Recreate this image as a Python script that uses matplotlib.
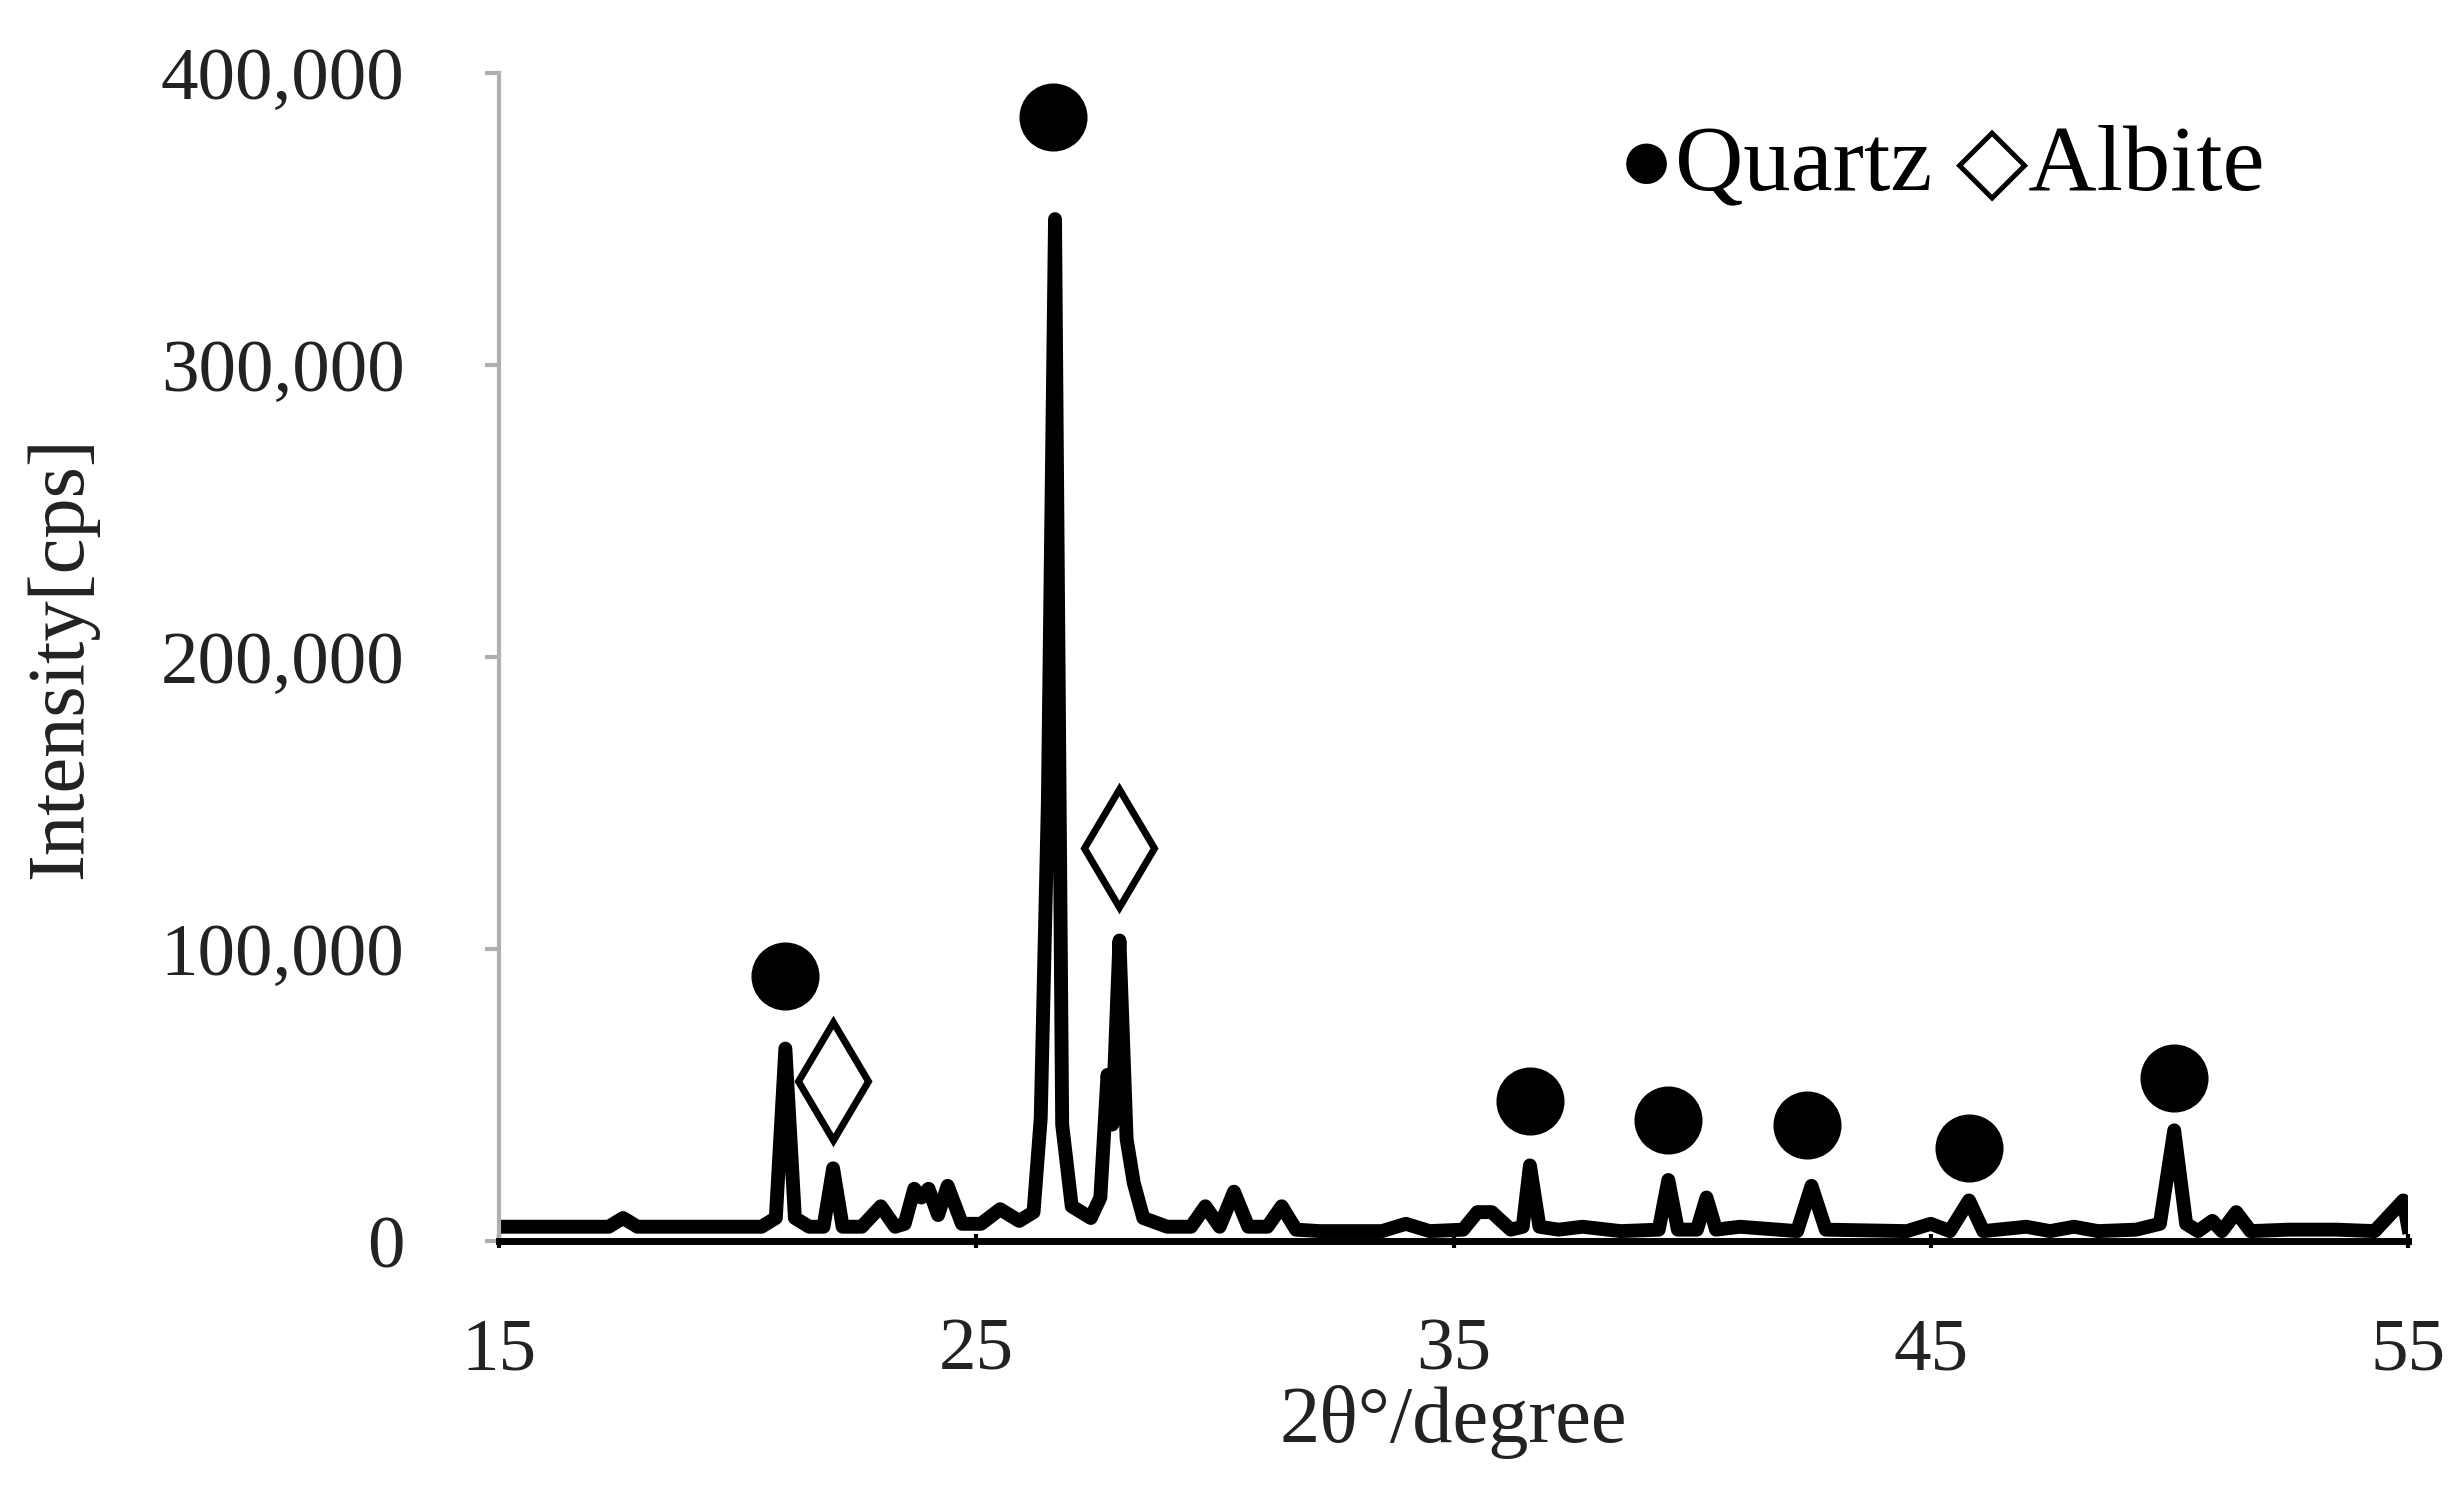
import matplotlib
matplotlib.use("Agg")
import matplotlib.pyplot as plt
from matplotlib.ticker import FuncFormatter

# XRD pattern (2theta, intensity in cps)
angle = [15.0, 16.5, 17.3, 17.6, 17.9, 19.0, 20.5, 20.8, 21.0, 21.2, 21.5,
         21.8, 22.0, 22.2, 22.6, 23.0, 23.3, 23.5, 23.7, 23.85, 24.0, 24.2,
         24.4, 24.7, 25.1, 25.5, 25.9, 26.2, 26.35, 26.5, 26.65, 26.8, 27.0,
         27.4, 27.6, 27.75, 27.85, 28.0, 28.15, 28.3, 28.5, 29.0, 29.5, 29.8,
         30.1, 30.4, 30.7, 31.1, 31.4, 31.7, 32.2, 33.5, 34.0, 34.5, 35.2,
         35.5, 35.8, 36.2, 36.45, 36.6, 36.8, 37.2, 37.7, 38.5, 39.3, 39.5,
         39.7, 40.1, 40.3, 40.5, 41.0, 42.2, 42.5, 42.8, 44.5, 45.0, 45.4,
         45.8, 46.1, 47.0, 47.5, 48.0, 48.5, 49.3, 49.8, 50.1, 50.35, 50.6,
         50.9, 51.1, 51.4, 51.7, 52.5, 53.5, 54.3, 54.9, 55.0]
intensity = [5000, 5000, 5000, 8000, 5000, 5000, 5000, 8000, 66000, 8000, 5000,
             5000, 25000, 5000, 5000, 12000, 5000, 6000, 18000, 15000, 18000, 9000,
             19000, 6000, 6000, 11000, 7000, 10000, 42000, 150000, 350000, 40000, 12000,
             8000, 15000, 57000, 40000, 103000, 35000, 20000, 8000, 5000, 5000, 12000,
             5000, 17000, 5000, 5000, 12000, 4000, 3500, 3500, 6000, 3500, 4000,
             10000, 10000, 4000, 5000, 26000, 5000, 4000, 5000, 3500, 4000, 21000,
             4000, 4000, 15000, 4000, 5000, 3500, 19000, 4000, 3500, 6000, 3500,
             14000, 3500, 5000, 3500, 5000, 3500, 4000, 6000, 38000, 6000, 3500,
             7000, 3500, 10000, 3500, 4000, 4000, 3500, 14000, 5000]

quartz_x = [21.0, 26.6, 36.6, 39.5, 42.4, 45.8, 50.1]
quartz_y = [90800, 385000, 48000, 41600, 40000, 31900, 56000]
albite_x = [22.0, 28.0]
albite_y = [55000, 134600]

plt.rcParams['font.family'] = ['Liberation Serif', 'DejaVu Serif']

fig = plt.figure(figsize=(24.63, 14.92), dpi=100)
ax = fig.add_axes([0.2026, 0.168, 0.7751, 0.783])

ax.plot(angle, intensity, color='black', linewidth=10, solid_joinstyle='round')
ax.plot(quartz_x, quartz_y, 'o', color='black', markersize=48, linestyle='none')
ax.plot(albite_x, albite_y, 'd', markerfacecolor='white', markeredgecolor='black',
        markersize=60, markeredgewidth=5, linestyle='none')

ax.set_xlim(15, 55)
ax.set_ylim(0, 400000)
ax.set_xticks([15, 25, 35, 45, 55])
ax.set_yticks([0, 100000, 200000, 300000, 400000])
ax.yaxis.set_major_formatter(FuncFormatter(lambda v, p: f'{int(v):,}'))

for s in ['top', 'right']:
    ax.spines[s].set_visible(False)
ax.spines['left'].set_color('#b0b0b0')
ax.spines['left'].set_linewidth(3)
ax.spines['bottom'].set_color('black')
ax.spines['bottom'].set_linewidth(5)
ax.tick_params(axis='y', length=10, width=3, color='#b0b0b0', pad=58, labelsize=54,
               labelcolor='#222222')
ax.tick_params(axis='x', length=10, width=3, direction='inout', pad=50, labelsize=54,
               labelcolor='#222222')

ax.set_xlabel('2θ°/degree', fontsize=58, labelpad=0, color='#222222')
ax.set_ylabel('Intensity[cps]', fontsize=58, labelpad=45, color='#222222')

ax.text(0.925, 0.92, '●Quartz ◇Albite', transform=ax.transAxes, ha='right',
        va='center', fontsize=68, color='black',
        family=['Liberation Serif', 'DejaVu Sans'])

fig.savefig('out.png', dpi=100)
